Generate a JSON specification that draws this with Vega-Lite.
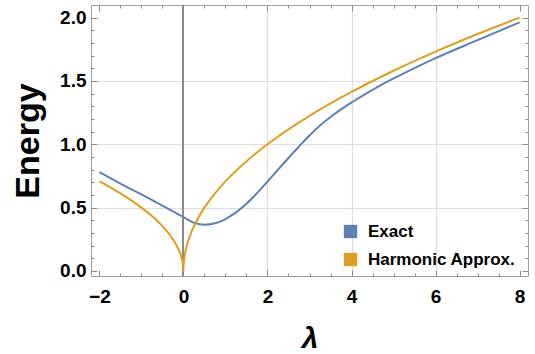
{
  "$schema": "https://vega.github.io/schema/vega-lite/v6.json",
  "width": 437,
  "height": 271,
  "autosize": {"type": "none"},
  "padding": {"left": 91, "top": 5, "right": 7, "bottom": 78},
  "config": {
    "font": "Liberation Sans",
    "view": {"stroke": "#a0a0a0", "strokeWidth": 1},
    "axis": {"domain": false, "grid": false, "labelColor": "black", "titleColor": "black"}
  },
  "data": {
    "values": [
      {"lam": -2.0, "E": 0.78, "series": "Exact"},
      {"lam": -1.5, "E": 0.69, "series": "Exact"},
      {"lam": -1.0, "E": 0.604, "series": "Exact"},
      {"lam": -0.5, "E": 0.516, "series": "Exact"},
      {"lam": 0.0, "E": 0.425, "series": "Exact"},
      {"lam": 0.25, "E": 0.38, "series": "Exact"},
      {"lam": 0.5, "E": 0.364, "series": "Exact"},
      {"lam": 0.75, "E": 0.376, "series": "Exact"},
      {"lam": 1.0, "E": 0.41, "series": "Exact"},
      {"lam": 1.25, "E": 0.462, "series": "Exact"},
      {"lam": 1.5, "E": 0.53, "series": "Exact"},
      {"lam": 1.75, "E": 0.614, "series": "Exact"},
      {"lam": 2.0, "E": 0.705, "series": "Exact"},
      {"lam": 2.25, "E": 0.8, "series": "Exact"},
      {"lam": 2.5, "E": 0.892, "series": "Exact"},
      {"lam": 2.75, "E": 0.983, "series": "Exact"},
      {"lam": 3.0, "E": 1.07, "series": "Exact"},
      {"lam": 3.25, "E": 1.148, "series": "Exact"},
      {"lam": 3.5, "E": 1.215, "series": "Exact"},
      {"lam": 3.75, "E": 1.276, "series": "Exact"},
      {"lam": 4.0, "E": 1.33, "series": "Exact"},
      {"lam": 4.5, "E": 1.43, "series": "Exact"},
      {"lam": 5.0, "E": 1.52, "series": "Exact"},
      {"lam": 5.5, "E": 1.602, "series": "Exact"},
      {"lam": 6.0, "E": 1.68, "series": "Exact"},
      {"lam": 7.0, "E": 1.822, "series": "Exact"},
      {"lam": 8.0, "E": 1.963, "series": "Exact"},
      {"lam": -2.0, "E": 0.707, "series": "Harmonic Approx."},
      {"lam": -1.75, "E": 0.661, "series": "Harmonic Approx."},
      {"lam": -1.5, "E": 0.612, "series": "Harmonic Approx."},
      {"lam": -1.25, "E": 0.559, "series": "Harmonic Approx."},
      {"lam": -1.0, "E": 0.5, "series": "Harmonic Approx."},
      {"lam": -0.75, "E": 0.433, "series": "Harmonic Approx."},
      {"lam": -0.5, "E": 0.354, "series": "Harmonic Approx."},
      {"lam": -0.3, "E": 0.274, "series": "Harmonic Approx."},
      {"lam": -0.2, "E": 0.224, "series": "Harmonic Approx."},
      {"lam": -0.1, "E": 0.158, "series": "Harmonic Approx."},
      {"lam": -0.05, "E": 0.112, "series": "Harmonic Approx."},
      {"lam": -0.02, "E": 0.071, "series": "Harmonic Approx."},
      {"lam": -0.005, "E": 0.035, "series": "Harmonic Approx."},
      {"lam": 0.0, "E": 0.0, "series": "Harmonic Approx."},
      {"lam": 0.0025, "E": 0.035, "series": "Harmonic Approx."},
      {"lam": 0.01, "E": 0.071, "series": "Harmonic Approx."},
      {"lam": 0.025, "E": 0.112, "series": "Harmonic Approx."},
      {"lam": 0.05, "E": 0.158, "series": "Harmonic Approx."},
      {"lam": 0.1, "E": 0.224, "series": "Harmonic Approx."},
      {"lam": 0.2, "E": 0.316, "series": "Harmonic Approx."},
      {"lam": 0.3, "E": 0.387, "series": "Harmonic Approx."},
      {"lam": 0.5, "E": 0.5, "series": "Harmonic Approx."},
      {"lam": 0.75, "E": 0.612, "series": "Harmonic Approx."},
      {"lam": 1.0, "E": 0.707, "series": "Harmonic Approx."},
      {"lam": 1.5, "E": 0.866, "series": "Harmonic Approx."},
      {"lam": 2.0, "E": 1.0, "series": "Harmonic Approx."},
      {"lam": 2.5, "E": 1.118, "series": "Harmonic Approx."},
      {"lam": 3.0, "E": 1.225, "series": "Harmonic Approx."},
      {"lam": 3.5, "E": 1.323, "series": "Harmonic Approx."},
      {"lam": 4.0, "E": 1.414, "series": "Harmonic Approx."},
      {"lam": 5.0, "E": 1.581, "series": "Harmonic Approx."},
      {"lam": 6.0, "E": 1.732, "series": "Harmonic Approx."},
      {"lam": 7.0, "E": 1.871, "series": "Harmonic Approx."},
      {"lam": 8.0, "E": 2.0, "series": "Harmonic Approx."}
    ]
  },
  "resolve": {"axis": {"x": "independent", "y": "independent"}},
  "layer": [
    {
      "mark": {"type": "line", "strokeOpacity": 0},
      "encoding": {
        "x": {"field": "lam", "type": "quantitative", "scale": {"domain": [-2.2, 8.2], "nice": false, "zero": false},
              "axis": {"orient": "bottom", "values": [-2, 0, 2, 4, 6, 8], "tickColor": "#8c8c8c", "tickWidth": 1, "tickSize": -6, "labels": false, "title": null}},
        "y": {"field": "E", "type": "quantitative", "scale": {"domain": [-0.04, 2.1], "nice": false, "zero": false},
              "axis": {"orient": "left", "values": [0, 0.5, 1, 1.5, 2], "tickColor": "#8c8c8c", "tickWidth": 1, "tickSize": -6, "labels": false, "title": null}},
        "detail": {"field": "series"}
      }
    },
    {
      "mark": {"type": "line", "strokeOpacity": 0},
      "encoding": {
        "x": {"field": "lam", "type": "quantitative",
              "axis": {"orient": "bottom", "values": [2, 4, 6], "grid": true, "gridColor": "#dedede", "gridWidth": 1.2, "ticks": false, "labels": false, "title": null}},
        "y": {"field": "E", "type": "quantitative",
              "axis": {"orient": "left", "values": [0.5, 1, 1.5], "grid": true, "gridColor": "#dedede", "gridWidth": 1.2, "ticks": false, "labels": false, "title": null}},
        "detail": {"field": "series"}
      }
    },
    {
      "mark": {"type": "rule", "color": "#8a8a8a", "strokeWidth": 1},
      "encoding": {"x": {"datum": 0, "type": "quantitative", "axis": null}}
    },
    {
      "mark": {"type": "line", "strokeWidth": 2, "interpolate": "monotone"},
      "encoding": {
        "x": {"field": "lam", "type": "quantitative",
              "axis": {"orient": "bottom", "values": [-2, 0, 2, 4, 6, 8], "ticks": false, "labelPadding": 11, "labelFontSize": 19, "labelFontWeight": "bold", "labelFlush": false,
                       "title": "λ", "titleFontSize": 30, "titleFontWeight": "bold", "titleFontStyle": "italic", "titlePadding": 17}},
        "y": {"field": "E", "type": "quantitative",
              "axis": {"orient": "left", "values": [0, 0.5, 1, 1.5, 2], "format": ".1f", "ticks": false, "labelPadding": 5, "labelFontSize": 19, "labelFontWeight": "bold", "labelFlush": false,
                       "title": "Energy", "titleFontSize": 34, "titleFontWeight": "bold", "titlePadding": 14}},
        "color": {"field": "series", "type": "nominal",
                  "scale": {"domain": ["Exact", "Harmonic Approx."], "range": ["#5E81B5", "#E19C24"]},
                  "legend": {"orient": "none", "legendX": 251, "legendY": 218, "title": null, "symbolType": "square", "symbolSize": 169,
                             "labelFontSize": 17, "labelFontWeight": "bold", "labelColor": "black", "rowPadding": 10, "labelOffset": 9, "padding": 0,
                             "symbolStrokeWidth": 1,
                             "encode": {"symbols": {"update": {"fill": {"scale": "color", "field": "value"}, "stroke": {"value": "#333333"}, "strokeOpacity": {"value": 0.35}, "opacity": {"value": 1}}}}}}
      }
    },
    {
      "mark": {"type": "line", "strokeOpacity": 0},
      "encoding": {
        "x": {"field": "lam", "type": "quantitative",
              "axis": {"orient": "bottom", "values": [-2, -1.5, -1, -0.5, 0, 0.5, 1, 1.5, 2, 2.5, 3, 3.5, 4, 4.5, 5, 5.5, 6, 6.5, 7, 7.5, 8], "tickColor": "#8c8c8c", "tickWidth": 1, "tickSize": -3, "labels": false, "title": null}},
        "y": {"field": "E", "type": "quantitative",
              "axis": {"orient": "left", "values": [0, 0.1, 0.2, 0.3, 0.4, 0.5, 0.6, 0.7, 0.8, 0.9, 1, 1.1, 1.2, 1.3, 1.4, 1.5, 1.6, 1.7, 1.8, 1.9, 2], "tickColor": "#8c8c8c", "tickWidth": 1, "tickSize": -3, "labels": false, "title": null}},
        "detail": {"field": "series"}
      }
    },
    {
      "mark": {"type": "line", "strokeOpacity": 0},
      "encoding": {
        "x": {"field": "lam", "type": "quantitative",
              "axis": {"orient": "top", "values": [-2, 0, 2, 4, 6, 8], "tickColor": "#8c8c8c", "tickWidth": 1, "tickSize": -6, "labels": false, "title": null}},
        "y": {"field": "E", "type": "quantitative",
              "axis": {"orient": "right", "values": [0, 0.5, 1, 1.5, 2], "tickColor": "#8c8c8c", "tickWidth": 1, "tickSize": -6, "labels": false, "title": null}},
        "detail": {"field": "series"}
      }
    },
    {
      "mark": {"type": "line", "strokeOpacity": 0},
      "encoding": {
        "x": {"field": "lam", "type": "quantitative",
              "axis": {"orient": "top", "values": [-2, -1.5, -1, -0.5, 0, 0.5, 1, 1.5, 2, 2.5, 3, 3.5, 4, 4.5, 5, 5.5, 6, 6.5, 7, 7.5, 8], "tickColor": "#8c8c8c", "tickWidth": 1, "tickSize": -3, "labels": false, "title": null}},
        "y": {"field": "E", "type": "quantitative",
              "axis": {"orient": "right", "values": [0, 0.1, 0.2, 0.3, 0.4, 0.5, 0.6, 0.7, 0.8, 0.9, 1, 1.1, 1.2, 1.3, 1.4, 1.5, 1.6, 1.7, 1.8, 1.9, 2], "tickColor": "#8c8c8c", "tickWidth": 1, "tickSize": -3, "labels": false, "title": null}},
        "detail": {"field": "series"}
      }
    }
  ]
}
